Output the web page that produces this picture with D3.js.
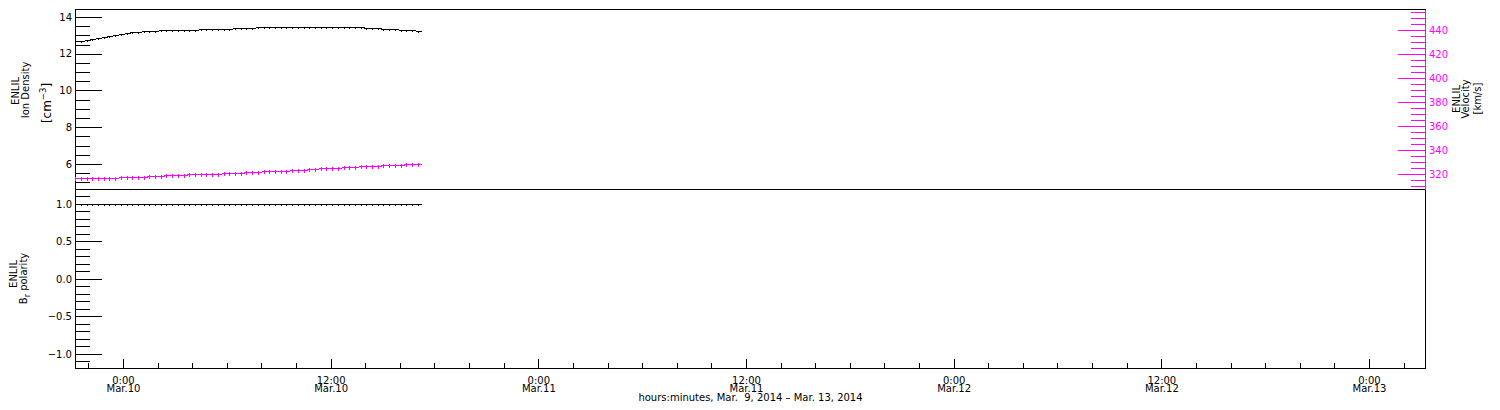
<!DOCTYPE html>
<html><head><meta charset="utf-8">
<script src="https://cdn.jsdelivr.net/npm/d3@7"></script>
<style>
html,body{margin:0;padding:0;background:#fff;}
svg{display:block;font-family:"DejaVu Sans",sans-serif;}
</style></head><body>
<svg id="c" width="1500" height="410"></svg>
<script>
// ---- data ----
const dataStart = "2014-03-09T21:14:00Z";
const dataStepMinutes = 19.8;
const densityValues = [
  12.67,12.72,12.76,12.81,12.86,12.92,12.97,13.02,13.07,13.12,
  13.16,13.20,13.23,13.25,13.26,13.27,13.28,13.28,13.29,13.29,
  13.30,13.31,13.32,13.33,13.34,13.35,13.36,13.37,13.39,13.40,
  13.41,13.42,13.43,13.43,13.44,13.44,13.45,13.45,13.45,13.45,
  13.45,13.45,13.45,13.45,13.45,13.45,13.44,13.44,13.44,13.43,
  13.43,13.42,13.41,13.39,13.37,13.35,13.33,13.31,13.29,13.27,
  13.25];
const velocityValues = [
  316.4,316.5,316.6,316.6,316.7,316.8,316.9,317.0,317.1,317.2,
  317.4,317.6,317.9,318.1,318.4,318.6,318.8,319.0,319.2,319.4,
  319.6,319.8,319.9,320.1,320.2,320.3,320.5,320.7,320.9,321.2,
  321.4,321.6,321.9,322.1,322.3,322.5,322.7,322.9,323.1,323.4,
  323.7,324.0,324.3,324.6,324.8,325.1,325.3,325.6,325.8,326.1,
  326.3,326.6,326.8,327.0,327.3,327.5,327.7,327.8,328.0,328.2,
  328.3];
const polarityValues = [
  1,1,1,1,1,1,1,1,1,1,
  1,1,1,1,1,1,1,1,1,1,
  1,1,1,1,1,1,1,1,1,1,
  1,1,1,1,1,1,1,1,1,1,
  1,1,1,1,1,1,1,1,1,1,
  1,1,1,1,1,1,1,1,1,1,
  1];
const densityTicks = [6, 8, 10, 12, 14];
const velocityTicks = [320, 340, 360, 380, 400, 420, 440];
const polarityTicks = [-1.0, -0.5, 0.0, 0.5, 1.0];
const xTickTimes = ["2014-03-10T00:00:00Z","2014-03-10T12:00:00Z","2014-03-11T00:00:00Z",
  "2014-03-11T12:00:00Z","2014-03-12T00:00:00Z","2014-03-12T12:00:00Z","2014-03-13T00:00:00Z"];
const xTickHours = ["0:00","12:00","0:00","12:00","0:00","12:00","0:00"];
const xTickDays = ["Mar.10","Mar.10","Mar.11","Mar.11","Mar.12","Mar.12","Mar.13"];
const xTitle = "hours:minutes, Mar.  9, 2014 \u2013 Mar. 13, 2014";
const xDomain = ["2014-03-09T21:13:36Z", "2014-03-13T03:14:12Z"];

// ---- layout ----
const L = 75, R = 1425, T1 = 9, B1 = 189, B2 = 368;
const MAG = "#ff00ff";
const FONT = "DejaVu Sans";

const svg = d3.select("#c");
const times = densityValues.map((_, i) => new Date(new Date(dataStart).getTime() + i * dataStepMinutes * 60000));

const x = d3.scaleUtc().domain(xDomain.map(d => new Date(d))).range([L, R]);
const yD = d3.scaleLinear().domain([4.639, 14.435]).range([B1, T1]);
const yV = d3.scaleLinear().domain([307.5, 457.5]).range([B1, T1]);
const yP = d3.scaleLinear().domain([-1.1867, 1.2]).range([B2, B1]);

function minorVals(scale, step, majors) {
  const [lo, hi] = scale.domain();
  return d3.range(Math.ceil(lo / step) * step, hi, step)
    .map(v => Math.round(v * 1000) / 1000)
    .filter(v => !majors.some(t => Math.abs(t - v) < 1e-6));
}
function styleAxis(g, color) {
  g.attr("font-family", FONT).attr("font-size", 10).attr("color", color || "#000");
  g.selectAll("line").attr("shape-rendering", "crispEdges");
  g.selectAll("path").attr("shape-rendering", "crispEdges");
}

// frames
svg.append("rect").attr("x", L + 0.5).attr("y", T1 + 0.5).attr("width", R - L).attr("height", B1 - T1)
  .attr("fill", "none").attr("stroke", "#000").attr("shape-rendering", "crispEdges");
svg.append("rect").attr("x", L + 0.5).attr("y", B1 + 0.5).attr("width", R - L).attr("height", B2 - B1)
  .attr("fill", "none").attr("stroke", "#000").attr("shape-rendering", "crispEdges");

// left axes
function leftAxis(scale, majors, step, fmt) {
  const gm = svg.append("g").attr("transform", `translate(${L},0)`)
    .call(d3.axisLeft(scale).tickValues(minorVals(scale, step, majors)).tickSizeInner(-15).tickSizeOuter(0).tickFormat(""));
  gm.select(".domain").remove(); styleAxis(gm);
  const g = svg.append("g").attr("transform", `translate(${L},0)`)
    .call(d3.axisLeft(scale).tickValues(majors).tickSizeInner(-27).tickSizeOuter(0).tickPadding(3).tickFormat(fmt));
  g.select(".domain").remove(); styleAxis(g);
}
leftAxis(yD, densityTicks, 0.5, d3.format("d"));
leftAxis(yP, polarityTicks, 0.1, d3.format(".1f"));

// right axis - velocity (magenta)
{
  const gm = svg.append("g").attr("transform", `translate(${R},0)`)
    .call(d3.axisRight(yV).tickValues(minorVals(yV, 5, velocityTicks)).tickSizeInner(-14).tickSizeOuter(0).tickFormat(""));
  styleAxis(gm, MAG);
  const g = svg.append("g").attr("transform", `translate(${R},0)`)
    .call(d3.axisRight(yV).tickValues(velocityTicks).tickSizeInner(-27).tickSizeOuter(0).tickPadding(4).tickFormat(d3.format("d")));
  g.select(".domain").remove(); styleAxis(g, MAG);
}

// bottom axis
{
  const majorT = xTickTimes.map(d => new Date(d));
  const [d0, d1] = x.domain();
  const minorT = d3.utcHour.every(2).range(d0, d1).filter(t => !majorT.some(m => +m === +t));
  const gm = svg.append("g").attr("transform", `translate(0,${B2})`)
    .call(d3.axisBottom(x).tickValues(minorT).tickSizeInner(-5).tickSizeOuter(0).tickFormat(""));
  gm.select(".domain").remove(); styleAxis(gm);
  const g = svg.append("g").attr("transform", `translate(0,${B2})`)
    .call(d3.axisBottom(x).tickValues(majorT).tickSizeInner(-9).tickSizeOuter(0).tickFormat(""));
  g.select(".domain").remove(); styleAxis(g);
  const lab = svg.append("g").attr("font-family", FONT).attr("font-size", 10).attr("text-anchor", "middle");
  majorT.forEach((t, i) => {
    const cx = x(t) + 0.5;
    lab.append("text").attr("x", cx).attr("y", 383.5).text(xTickHours[i]);
    lab.append("text").attr("x", cx).attr("y", 391.5).text(xTickDays[i]);
  });
  svg.append("text").attr("x", (L + R) / 2 + 0.5).attr("y", 400.5).attr("font-family", FONT).attr("font-size", 10)
    .attr("text-anchor", "middle").attr("xml:space", "preserve").style("white-space", "pre").text(xTitle);
}

// axis titles
function rotText(tx, ty, ang, size) {
  return svg.append("text").attr("transform", `translate(${tx},${ty}) rotate(${ang})`)
    .attr("font-family", FONT).attr("font-size", size || 10).attr("text-anchor", "middle");
}
rotText(18.5, 91, -90).text("ENLIL");
rotText(29, 90, -90).text("Ion Density");
{
  const t = rotText(51, 103, -90, 12);
  t.append("tspan").text("[cm");
  t.append("tspan").attr("dy", -5).attr("font-size", 8.5).text("\u22123");
  t.append("tspan").attr("dy", 5).text("]");
}
rotText(17, 274, -90).text("ENLIL");
{
  const t = rotText(27, 278.5, -90);
  t.append("tspan").text("B");
  t.append("tspan").attr("dy", 2.5).attr("font-size", 8).text("r");
  t.append("tspan").attr("dy", -2.5).text(" polarity");
}
rotText(1460, 99, -90).text("ENLIL");
rotText(1469, 99, -90).text("Velocity");
rotText(1481, 98.5, -90).text("[km/s]");

// clip paths
const defs = svg.append("defs");
defs.append("clipPath").attr("id", "cp1").append("rect").attr("x", L).attr("y", T1).attr("width", R - L + 1).attr("height", B1 - T1 + 1);
defs.append("clipPath").attr("id", "cp2").append("rect").attr("x", L).attr("y", B1).attr("width", R - L + 1).attr("height", B2 - B1 + 1);

function plus(g, data, ys, color, hArm, vArm) {
  g.selectAll(null).data(data).join("path")
    .attr("d", (v, i) => {
      const cx = Math.round(x(times[i])) + 0.5, cy = Math.round(ys(v)) + 0.5;
      return `M${cx - hArm},${cy}H${cx + hArm}M${cx},${cy - vArm}V${cy + vArm}`;
    })
    .attr("stroke", color).attr("stroke-width", 1).attr("fill", "none").attr("shape-rendering", "crispEdges");
}
const g1 = svg.append("g").attr("clip-path", "url(#cp1)");
plus(g1, densityValues, yD, "#000", 3, 1);
plus(g1, velocityValues, yV, MAG, 3, 2);
const g2 = svg.append("g").attr("clip-path", "url(#cp2)");
plus(g2, polarityValues, yP, "#000", 3, 1);
</script>
</body></html>
